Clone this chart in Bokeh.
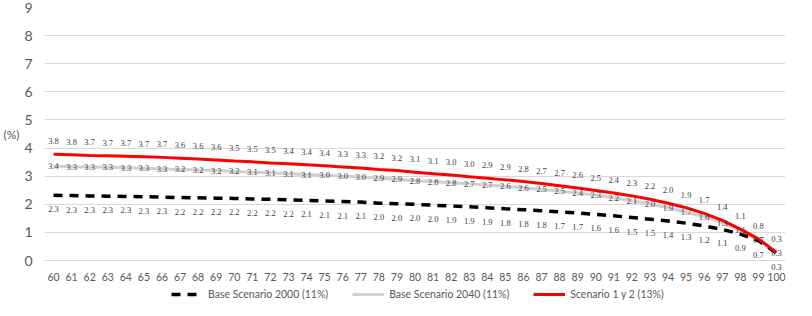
from bokeh.plotting import figure
from bokeh.models import (ColumnDataSource, Range1d, FixedTicker, Legend, LegendItem, LabelSet,
                          LinearAxis)
from bokeh.embed import file_html
from bokeh.resources import INLINE

ages = list(range(60, 101))
tick_labels = [str(a) for a in ages]

# values estimated from the line positions; the printed labels are these rounded to 0.1
base_2000 = [2.32, 2.31, 2.30, 2.29, 2.28, 2.27, 2.26,
             2.24, 2.23, 2.22, 2.21, 2.19, 2.18, 2.16,
             2.14, 2.12, 2.10, 2.08,
             2.04, 2.02, 2.00, 1.97,
             1.94, 1.91, 1.88,
             1.84, 1.81, 1.77,
             1.73, 1.69, 1.64, 1.59, 1.53, 1.47,
             1.41, 1.33, 1.23, 1.11, 0.94, 0.71, 0.27]
base_2040 = [3.36, 3.34, 3.33, 3.32, 3.30, 3.28, 3.26,
             3.24, 3.22, 3.20, 3.17,
             3.14, 3.12, 3.09, 3.06,
             3.03, 3.00, 2.97,
             2.93, 2.89,
             2.84, 2.81, 2.77,
             2.73, 2.69, 2.64, 2.59, 2.53, 2.47,
             2.40, 2.32, 2.23, 2.13, 2.02, 1.88, 1.72, 1.56, 1.34, 1.07, 0.72, 0.28]
scen_12 = [3.78, 3.76, 3.74, 3.73, 3.71, 3.69, 3.67,
           3.64, 3.61, 3.58, 3.54, 3.51, 3.47,
           3.44, 3.41, 3.37, 3.33, 3.29, 3.24, 3.20,
           3.14, 3.09, 3.04, 2.98, 2.93, 2.87,
           2.81, 2.74, 2.66, 2.58, 2.49, 2.40, 2.30, 2.18,
           2.04, 1.88, 1.68, 1.43, 1.12, 0.77, 0.29]

series_names = ["Base Scenario 2000 (11%)", "Base Scenario 2040 (11%)", "Scenario 1 y 2 (13%)"]
y_ticks = list(range(0, 10))
y_title = "(%)"

FONT = "Lato"

src = ColumnDataSource(dict(
    x=ages, b2000=base_2000, b2040=base_2040, s12=scen_12,
    l2000=[f"{v:.1f}" for v in base_2000],
    l2040=[f"{v:.1f}" for v in base_2040],
    l12=[f"{v:.1f}" for v in scen_12],
))

# frame spans down to the bottom of the canvas so the legend can sit inside it
p = figure(width=796, height=300, output_backend="svg", toolbar_location=None,
           x_range=Range1d(59.5, 100.5), y_range=Range1d(-1.42, 9),
           min_border_left=40, min_border_right=11, min_border_top=7, min_border_bottom=0)
p.outline_line_color = None
p.background_fill_color = "white"
p.border_fill_color = "white"

p.xgrid.visible = False
p.ygrid.ticker = FixedTicker(ticks=y_ticks)
p.ygrid.grid_line_color = "#D9D9D9"
p.ygrid.grid_line_width = 1

p.xaxis.ticker = FixedTicker(ticks=ages)
p.xaxis.major_label_overrides = {a: t for a, t in zip(ages, tick_labels)}
p.xaxis.fixed_location = 0
p.yaxis.ticker = FixedTicker(ticks=y_ticks)

# outer left axis carrying the "(%)" title at mid-height
title_axis = LinearAxis(ticker=FixedTicker(ticks=[4.5]),
                        major_label_overrides={4.5: y_title})
p.add_layout(title_axis, "left")

for ax in (p.xaxis[0], p.yaxis[0], title_axis):
    ax.axis_line_color = None
    ax.major_tick_line_color = None
    ax.minor_tick_line_color = None
    ax.major_tick_out = 0
    ax.major_tick_in = 0
    ax.major_label_text_font = FONT
    ax.major_label_text_color = "#595959"
p.xaxis.major_label_text_font_size = "10.5px"
p.yaxis[0].major_label_text_font_size = "14px"
p.xaxis.major_label_standoff = 12
p.yaxis[0].major_label_standoff = 12
title_axis.major_label_text_font_size = "12px"
title_axis.major_label_standoff = 2

r2040 = p.line("x", "b2040", source=src, line_color="#D0D0D0", line_width=3)
r2000 = p.line("x", "b2000", source=src, line_color="black", line_width=3.5, line_dash="9 7")
r12 = p.line("x", "s12", source=src, line_color="#FF0000", line_width=3)

common = dict(source=src, x="x", text_font=FONT, text_font_size="8.5px", text_color="#404040",
              text_align="center", text_baseline="middle")
p.add_layout(LabelSet(y="s12", text="l12", y_offset=13, **common))
p.add_layout(LabelSet(y="b2040", text="l2040", y_offset=0, **common))
p.add_layout(LabelSet(y="b2000", text="l2000", y_offset=-14, **common))

legend = Legend(items=[LegendItem(label=series_names[0], renderers=[r2000]),
                       LegendItem(label=series_names[1], renderers=[r2040]),
                       LegendItem(label=series_names[2], renderers=[r12])],
                orientation="horizontal", location=(127, 0),
                border_line_color=None, background_fill_alpha=0,
                label_text_font=FONT, label_text_font_size="10.5px", label_text_color="#595959",
                glyph_width=32, glyph_height=12, label_standoff=5, spacing=24,
                padding=0, margin=0)
p.add_layout(legend)

open("out.html", "w").write(file_html(p, INLINE))
